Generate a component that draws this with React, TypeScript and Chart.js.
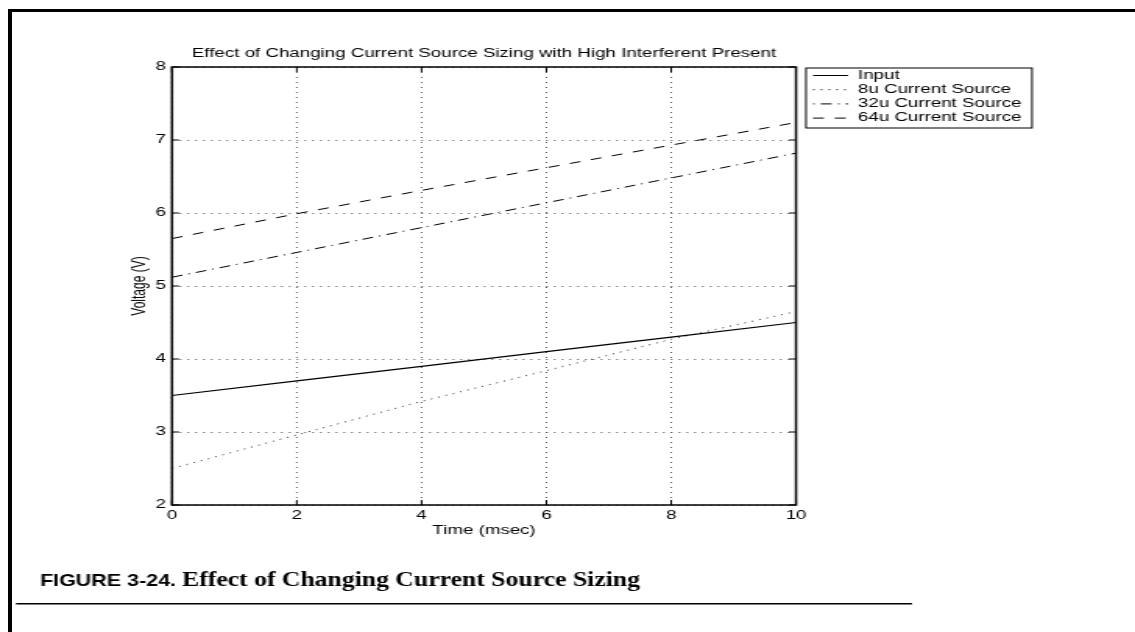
import React, { useEffect, useRef } from "react";
import { Chart, registerables } from "chart.js";

Chart.register(...registerables);

// ---- data ----
const timeMs = [0, 2, 4, 6, 8, 10];
const inputV = [3.5, 3.7, 3.9, 4.1, 4.3, 4.5];
const src8uV = [2.5, 2.96, 3.42, 3.84, 4.27, 4.65];
const src32uV = [5.12, 5.46, 5.8, 6.14, 6.48, 6.82];
const src64uV = [5.65, 5.99, 6.31, 6.62, 6.93, 7.24];
const xTicks = [0, 2, 4, 6, 8, 10];
const yTicks = [2, 3, 4, 5, 6, 7, 8];
const seriesNames = ["Input", "8u Current Source", "32u Current Source", "64u Current Source"];
const chartTitle = "Effect of Changing Current Source Sizing with High Interferent Present";
const xTitle = "Time (msec)";
const yTitle = "Voltage (V)";
const captionLabel = "FIGURE 3-24.";
const captionText = "Effect of Changing Current Source Sizing";

// ---- layout (page px) ----
const PAGE_W = 1135;
const PAGE_H = 632;
const CANVAS_W = 728;
const SX = PAGE_W / CANVAS_W;
const px = (xPage: number) => xPage / SX;
const FONT = '"Liberation Sans", Arial, Helvetica, sans-serif';

const dashes: number[][] = [[], [1, 4], [7, 4, 1, 4], [7, 7]];
const dashOffsets = [0, 0, 11, 0];

const decor = {
  id: "decor",
  beforeDraw(chart: any) {
    const ctx = chart.ctx;
    ctx.save();
    ctx.fillStyle = "#fff";
    ctx.fillRect(0, 0, chart.width, chart.height);
    ctx.restore();
  },
  beforeDatasetsDraw(chart: any) {
    const { ctx, chartArea: a } = chart;
    const x = chart.scales.x;
    const y = chart.scales.y;
    ctx.save();
    ctx.strokeStyle = "#555";
    ctx.lineWidth = 1;
    ctx.setLineDash([1, 4]);
    for (const t of x.ticks) {
      const xp = x.getPixelForValue(t.value);
      ctx.beginPath();
      ctx.moveTo(xp, a.top);
      ctx.lineTo(xp, a.bottom);
      ctx.stroke();
    }
    for (const t of y.ticks) {
      const yp = Math.round(y.getPixelForValue(t.value)) + 0.5;
      ctx.beginPath();
      ctx.moveTo(a.left, yp);
      ctx.lineTo(a.right, yp);
      ctx.stroke();
    }
    ctx.restore();
  },
  afterDatasetsDraw(chart: any) {
    const { ctx, chartArea: a } = chart;
    const x = chart.scales.x;
    const y = chart.scales.y;
    ctx.save();
    ctx.setLineDash([]);
    ctx.strokeStyle = "#000";
    ctx.lineWidth = 1.5;
    ctx.strokeRect(a.left, a.top, a.right - a.left, a.bottom - a.top);
    ctx.lineWidth = 1;
    ctx.beginPath();
    for (const t of x.ticks) {
      const xp = x.getPixelForValue(t.value);
      ctx.moveTo(xp, a.bottom);
      ctx.lineTo(xp, a.bottom - 5);
      ctx.moveTo(xp, a.top);
      ctx.lineTo(xp, a.top + 5);
    }
    for (const t of y.ticks) {
      const yp = y.getPixelForValue(t.value);
      ctx.moveTo(a.left, yp);
      ctx.lineTo(a.left + 4.5, yp);
      ctx.moveTo(a.right, yp);
      ctx.lineTo(a.right - 4.5, yp);
    }
    ctx.stroke();

    // titles
    ctx.fillStyle = "#000";
    ctx.font = `12px ${FONT}`;
    ctx.textAlign = "center";
    ctx.textBaseline = "alphabetic";
    ctx.fillText(chartTitle, (a.left + a.right) / 2, 57);
    ctx.textBaseline = "middle";
    ctx.fillText(xTitle, (a.left + a.right) / 2, 531);
    ctx.save();
    ctx.translate(px(140), (a.top + a.bottom) / 2);
    ctx.rotate(-Math.PI / 2);
    ctx.fillText(yTitle, 0, 0);
    ctx.restore();

    // legend
    const lx0 = px(806), lx1 = px(1032), ly0 = 68, ly1 = 128;
    ctx.lineWidth = 1;
    ctx.strokeRect(lx0, ly0, lx1 - lx0, ly1 - ly0);
    ctx.textAlign = "left";
    ctx.textBaseline = "middle";
    seriesNames.forEach((name, i) => {
      const ry = 75.5 + i * 14.2;
      ctx.save();
      ctx.setLineDash(dashes[i]);
      ctx.lineDashOffset = dashOffsets[i];
      ctx.strokeStyle = "#000";
      ctx.lineWidth = 1;
      ctx.beginPath();
      ctx.moveTo(px(813), ry);
      ctx.lineTo(px(848), ry);
      ctx.stroke();
      ctx.restore();
      ctx.fillText(name, px(858), ry);
    });

    // caption
    const drawFit = (text: string, font: string, x0: number, x1: number, base: number) => {
      ctx.save();
      ctx.font = font;
      ctx.textAlign = "left";
      ctx.textBaseline = "alphabetic";
      const w = ctx.measureText(text).width;
      const tw = px(x1) - px(x0);
      ctx.translate(px(x0), base);
      ctx.scale(tw / w, 1);
      ctx.fillText(text, 0, 0);
      ctx.restore();
    };
    drawFit(captionLabel, `bold 17px ${FONT}`, 40, 176, 586);
    drawFit(captionText, `bold 21px "Liberation Serif", "Times New Roman", serif`, 182, 640, 586);
    ctx.fillStyle = "#000";
    ctx.fillRect(px(16), 603, px(912) - px(16), 1.5);
    ctx.restore();
  },
};

export default function App() {
  const ref = useRef<HTMLCanvasElement | null>(null);
  useEffect(() => {
    if (!ref.current) return;
    const series = [inputV, src8uV, src32uV, src64uV];
    const chart = new Chart(ref.current, {
      type: "line",
      data: {
        datasets: series.map((vals, i) => ({
          label: seriesNames[i],
          data: timeMs.map((t, j) => ({ x: t, y: vals[j] })),
          borderColor: i === 1 ? "#333" : "#000",
          borderWidth: i === 0 ? 1.2 : 1,
          borderDash: dashes[i],
          pointRadius: 0,
          fill: false,
          tension: 0,
        })),
      },
      options: {
        responsive: false,
        animation: false,
        devicePixelRatio: 1,
        layout: {
          padding: {
            left: px(172) - 30,
            top: 67,
            right: CANVAS_W - px(796),
            bottom: PAGE_H - 505 - 30,
          },
        },
        plugins: {
          legend: { display: false },
          title: { display: false },
          tooltip: { enabled: false },
        },
        scales: {
          x: {
            type: "linear",
            min: 0,
            max: 10,
            grid: { display: false, drawTicks: false },
            border: { display: false },
            ticks: { color: "#000", font: { family: FONT, size: 12 }, padding: 3 },
            afterBuildTicks: (s: any) => {
              s.ticks = xTicks.map((v) => ({ value: v }));
            },
            afterFit: (s: any) => {
              s.height = 30;
            },
          },
          y: {
            type: "linear",
            min: 2,
            max: 8,
            grid: { display: false, drawTicks: false },
            border: { display: false },
            ticks: { color: "#000", font: { family: FONT, size: 12 }, padding: 4 },
            afterBuildTicks: (s: any) => {
              s.ticks = yTicks.map((v) => ({ value: v }));
            },
            afterFit: (s: any) => {
              s.width = 30;
            },
          },
        },
      } as any,
      plugins: [decor],
    });
    return () => chart.destroy();
  }, []);

  return (
    <div
      style={{
        position: "fixed",
        left: 0,
        top: 0,
        width: PAGE_W,
        height: PAGE_H,
        overflow: "hidden",
        background: "#fff",
      }}
    >
      <canvas
        ref={ref}
        width={CANVAS_W}
        height={PAGE_H}
        style={{
          position: "absolute",
          left: 0,
          top: 0,
          width: CANVAS_W,
          height: PAGE_H,
          transform: `scaleX(${SX})`,
          transformOrigin: "0 0",
        }}
      />
      <div style={{ position: "absolute", left: 8, top: 9, width: PAGE_W - 8, height: 3, background: "#000" }} />
      <div style={{ position: "absolute", left: 8, top: 9, width: 4, height: PAGE_H - 9, background: "#000" }} />
    </div>
  );
}
